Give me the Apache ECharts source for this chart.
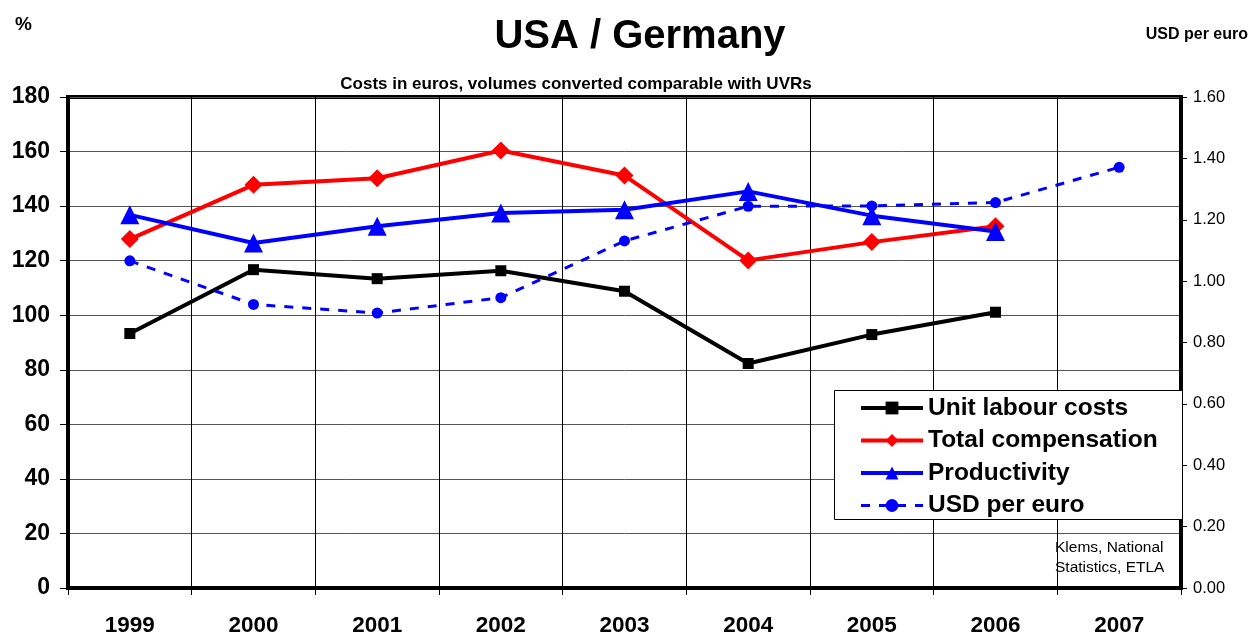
<!DOCTYPE html>
<html>
<head>
<meta charset="utf-8">
<style>
  html, body { margin: 0; padding: 0; background: #fff; }
  #chart { width: 1254px; height: 637px; }
</style>
<script src="https://cdn.jsdelivr.net/npm/echarts@6/dist/echarts.min.js"></script>
</head>
<body>
<div id="chart"></div>
<script>
// Years on the category axis
const years = ['1999', '2000', '2001', '2002', '2003', '2004', '2005', '2006', '2007'];

// Index series, % (left axis)
const unitLabourCosts = [93.3, 116.7, 113.4, 116.3, 108.8, 82.3, 92.9, 101.1, null];
const totalCompensation = [127.9, 147.8, 150.2, 160.4, 151.2, 120.1, 126.8, 132.6, null];
const productivity = [136.8, 126.5, 132.6, 137.5, 138.7, 145.4, 136.5, 130.7, null];

// Exchange rate, USD per euro (right axis)
const usdPerEuro = [1.066, 0.924, 0.896, 0.946, 1.131, 1.244, 1.245, 1.256, 1.371];

const FONT = '"Liberation Sans", Arial, sans-serif';

const chart = echarts.init(document.getElementById('chart'), null, { renderer: 'canvas' });

chart.setOption({
  animation: false,
  backgroundColor: '#fff',
  textStyle: { fontFamily: FONT },
  grid: {
    left: 68, right: 73, top: 97, bottom: 48,
    show: true, borderColor: '#000', borderWidth: 4, backgroundColor: 'transparent'
  },
  title: [
    {
      text: 'USA / Germany', left: 635, top: 12, textAlign: 'center',
      textStyle: { fontFamily: FONT, fontSize: 40, fontWeight: 'bold', color: '#000' }
    },
    {
      text: 'Costs in euros, volumes converted comparable with UVRs', left: 571, top: 71, textAlign: 'center',
      textStyle: { fontFamily: FONT, fontSize: 17, fontWeight: 'bold', color: '#000' }
    },
    {
      text: '%', left: 10, top: 10,
      textStyle: { fontFamily: FONT, fontSize: 19, fontWeight: 'bold', color: '#000' }
    },
    {
      text: 'USD per euro', left: 1243, top: 22, textAlign: 'right',
      textStyle: { fontFamily: FONT, fontSize: 16, fontWeight: 'bold', color: '#000' }
    }
  ],
  legend: {
    orient: 'vertical',
    left: 859, top: 394,
    padding: 0,
    itemWidth: 62, itemHeight: 16, itemGap: 4.5,
    selectedMode: false,
    z: 20,
    textStyle: { fontFamily: FONT, fontSize: 24.5, fontWeight: 'bold', color: '#000', lineHeight: 28, padding: [0, 0, 0, 0] },
    data: [
      { name: 'Unit labour costs', lineStyle: { width: 4 } },
      { name: 'Total compensation', lineStyle: { width: 4 } },
      { name: 'Productivity', lineStyle: { width: 4 } },
      { name: 'USD per euro', lineStyle: { width: 3 } }
    ]
  },
  graphic: [
    {
      type: 'rect', z: 15,
      shape: { x: 834.5, y: 390.5, width: 348, height: 129 },
      style: { fill: '#fff', stroke: '#000', lineWidth: 1 }
    },
    {
      type: 'text', z: 15, left: 1055, top: 538,
      style: {
        text: 'Klems, National\nStatistics, ETLA',
        font: '15.5px ' + FONT, fill: '#000', lineHeight: 20
      }
    }
  ],
  xAxis: {
    type: 'category',
    data: years,
    boundaryGap: true,
    axisLine: { show: true, lineStyle: { color: '#000', width: 4 } },
    axisTick: { show: true, length: 7, lineStyle: { color: '#000', width: 1 } },
    axisLabel: { color: '#000', fontFamily: FONT, fontSize: 22.5, fontWeight: 'bold', margin: 26 },
    splitLine: { show: true, lineStyle: { color: '#000', width: 1 } }
  },
  yAxis: [
    {
      type: 'value', min: 0, max: 180, interval: 20,
      axisLine: { show: true, lineStyle: { color: '#000', width: 4 } },
      axisTick: { show: true, length: 8, lineStyle: { color: '#000', width: 1 } },
      axisLabel: { color: '#000', fontFamily: FONT, fontSize: 23, fontWeight: 'bold', margin: 18 },
      splitLine: { show: true, lineStyle: { color: '#555', width: 1 } }
    },
    {
      type: 'value', min: 0, max: 1.6, interval: 0.2, position: 'right',
      axisLine: { show: true, lineStyle: { color: '#000', width: 4 } },
      axisTick: { show: true, length: 6, lineStyle: { color: '#000', width: 1 } },
      axisLabel: { color: '#000', fontFamily: FONT, fontSize: 16.5, margin: 12,
        formatter: v => v.toFixed(2) },
      splitLine: { show: false }
    }
  ],
  series: [
    {
      name: 'Unit labour costs', type: 'line', data: unitLabourCosts, yAxisIndex: 0,
      symbol: 'rect', symbolSize: 11,
      lineStyle: { color: '#000', width: 4 }, itemStyle: { color: '#000' }, z: 3
    },
    {
      name: 'Total compensation', type: 'line', data: totalCompensation, yAxisIndex: 0,
      symbol: 'diamond', symbolSize: 18,
      lineStyle: { color: '#ff0000', width: 4 }, itemStyle: { color: '#ff0000' }, z: 4
    },
    {
      name: 'Productivity', type: 'line', data: productivity, yAxisIndex: 0,
      symbol: 'triangle', symbolSize: 19,
      lineStyle: { color: '#0000ff', width: 4 }, itemStyle: { color: '#0000ff' }, z: 5
    },
    {
      name: 'USD per euro', type: 'line', data: usdPerEuro, yAxisIndex: 1,
      symbol: 'circle', symbolSize: 11,
      lineStyle: { color: '#0000ff', width: 3, type: [9, 9] }, itemStyle: { color: '#0000ff' }, z: 6
    }
  ]
});
</script>
</body>
</html>
